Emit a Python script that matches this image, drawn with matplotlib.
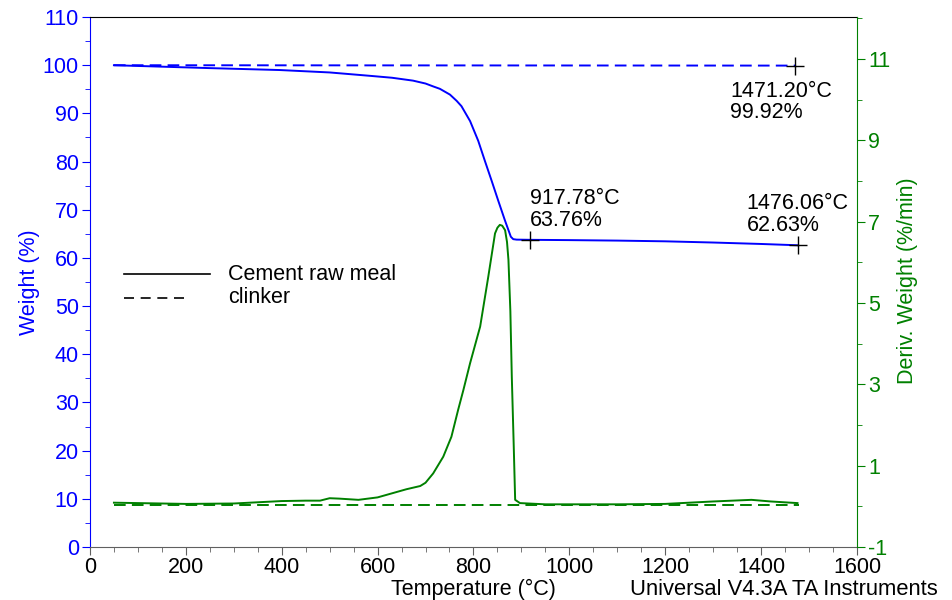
import matplotlib
matplotlib.use("Agg")
from matplotlib import pyplot as plt
from matplotlib.ticker import MultipleLocator, FixedLocator

plt.rcParams['font.family'] = ['Liberation Sans', 'DejaVu Sans']
plt.rcParams['axes.unicode_minus'] = False
FS = 15.5

# weight curve, cement raw meal (temperature degC, weight %)
raw_T = [50, 150, 250, 396, 500, 584, 630, 674, 700, 716, 730, 751, 765,
         775, 793, 810, 824, 838, 852, 866, 874, 878, 883, 890, 917.78,
         1000, 1100, 1200, 1300, 1400, 1476.06]
raw_W = [100.0, 99.7, 99.4, 99.0, 98.5, 97.8, 97.4, 96.8, 96.2, 95.6, 95.1,
         93.9, 92.6, 91.5, 88.4, 84.3, 80.1, 76.0, 71.8, 67.7, 65.5, 64.4,
         63.9, 63.8, 63.76, 63.7, 63.6, 63.45, 63.2, 62.9, 62.63]

# weight curve, clinker
clk_T = [50, 1471.20]
clk_W = [100.0, 99.92]

# derivative weight, cement raw meal (%/min)
draw_T = [50, 100, 200, 300, 400, 450, 480, 500, 520, 560, 600, 633, 660,
          689, 700, 716, 737, 754, 768, 779, 793, 814, 831, 845, 850, 855,
          860, 866, 870, 873, 877, 880, 884, 887, 897, 950, 1100, 1200,
          1300, 1380, 1420, 1476]
draw_D = [0.09, 0.08, 0.06, 0.07, 0.13, 0.14, 0.14, 0.20, 0.19, 0.16, 0.22,
          0.33, 0.42, 0.50, 0.58, 0.81, 1.22, 1.71, 2.37, 2.86, 3.52, 4.42,
          5.65, 6.71, 6.85, 6.92, 6.90, 6.79, 6.50, 6.06, 4.80, 3.19, 1.50,
          0.16, 0.08, 0.05, 0.05, 0.06, 0.12, 0.16, 0.12, 0.08]

# derivative weight, clinker
dclk_T = [50, 1480]
dclk_D = [0.03, 0.03]

# marked points: (temperature, weight)
marks = [(1471.20, 99.92), (917.78, 63.76), (1476.06, 62.63)]
mark_text = [(1335, 96.8), (918, 74.5), (1370, 73.5)]

blue = '#0000ff'
green = '#008000'

fig = plt.figure(figsize=(9.53, 6), dpi=100)
ax = fig.add_axes([0.0944, 0.0883, 0.8048, 0.8833])
ax2 = ax.twinx()

ax.plot(raw_T, raw_W, color=blue, lw=1.4)
ax.plot(clk_T, clk_W, color=blue, lw=1.4, dashes=(6, 3.2))
ax2.plot(draw_T, draw_D, color=green, lw=1.4)
ax2.plot(dclk_T, dclk_D, color=green, lw=1.4, dashes=(6, 3.2))

for (t, w), (tx, ty) in zip(marks, mark_text):
    ax.plot(t, w, marker='+', color='black', ms=13, mew=1.0, zorder=5)
    ax.text(tx, ty, '%.2f°C\n%.2f%%' % (t, w), fontsize=FS, va='top',
            ha='left', linespacing=1.05)

ax.set_xlim(0, 1600)
ax.set_ylim(0, 110)
ax2.set_ylim(-1, 12.03)

ax.xaxis.set_major_locator(MultipleLocator(200))
ax.xaxis.set_minor_locator(MultipleLocator(50))
ax.yaxis.set_major_locator(MultipleLocator(10))
ax.yaxis.set_minor_locator(MultipleLocator(5))
ax2.yaxis.set_major_locator(FixedLocator([-1, 1, 3, 5, 7, 9, 11]))
ax2.yaxis.set_minor_locator(FixedLocator([0, 2, 4, 6, 8, 10, 12]))

ax.tick_params(axis='x', which='both', direction='out', labelsize=FS,
               color='#606060', pad=1.5)
ax.tick_params(axis='x', which='major', length=6)
ax.tick_params(axis='x', which='minor', length=3.5)
ax.tick_params(axis='y', which='both', direction='out', labelsize=FS,
               color=blue, labelcolor=blue, pad=2)
ax.tick_params(axis='y', which='major', length=6)
ax.tick_params(axis='y', which='minor', length=3.5)
ax2.tick_params(axis='y', which='both', direction='out', labelsize=FS,
                color=green, labelcolor=green, pad=2)
ax2.tick_params(axis='y', which='major', length=6)
ax2.tick_params(axis='y', which='minor', length=3.5)

ax.spines['left'].set_color(blue)
ax.spines['right'].set_visible(False)
ax.spines['bottom'].set_color('#606060')
ax.spines['top'].set_color('black')
ax2.spines['right'].set_color(green)
ax2.spines['left'].set_visible(False)
ax2.spines['top'].set_visible(False)
ax2.spines['bottom'].set_visible(False)

# legend drawn by hand in axes fraction
ax.plot([0.0443, 0.1565], [0.515, 0.515], color='black', lw=1.2,
        transform=ax.transAxes)
ax.plot([0.0443, 0.131], [0.470, 0.470], color='black', lw=1.2,
        dashes=(6, 4), transform=ax.transAxes)
ax.text(0.18, 0.515, 'Cement raw meal', fontsize=FS, va='center',
        transform=ax.transAxes)
ax.text(0.18, 0.470, 'clinker', fontsize=FS, va='center',
        transform=ax.transAxes)

fig.text(0.497, 0.018, 'Temperature (°C)', fontsize=FS, ha='center',
         va='center')
fig.text(0.984, 0.018, 'Universal V4.3A TA Instruments', fontsize=15.8,
         ha='right', va='center')
fig.text(0.031, 0.53, 'Weight (%)', fontsize=FS, color=blue, rotation=90,
         ha='center', va='center')
fig.text(0.952, 0.533, 'Deriv. Weight (%/min)', fontsize=FS, color=green,
         rotation=90, ha='center', va='center')

fig.savefig('out.png', dpi=100)
